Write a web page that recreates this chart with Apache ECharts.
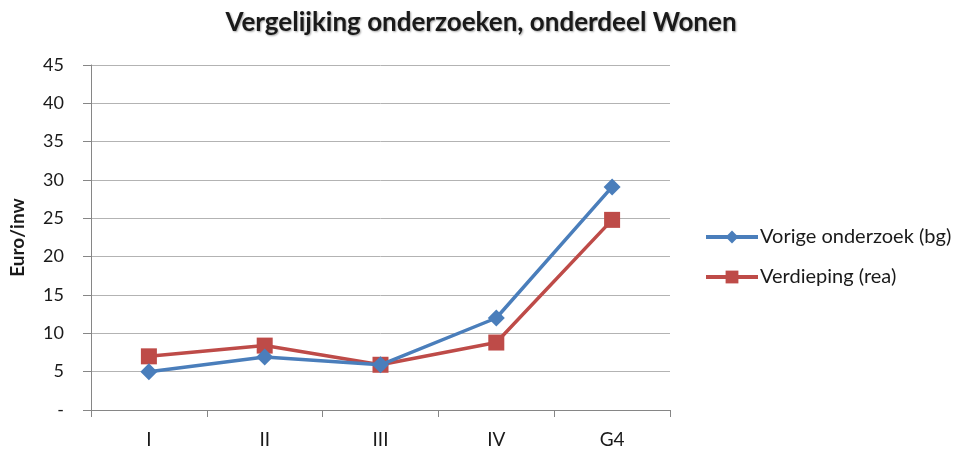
<!DOCTYPE html>
<html>
<head>
<meta charset="utf-8">
<script src="https://cdn.jsdelivr.net/npm/echarts@6/dist/echarts.min.js"></script>
<style>
	html, body { margin: 0; padding: 0; background: #ffffff; }
	#chart { width: 962px; height: 450px; }
</style>
</head>
<body>
<div id="chart"></div>
<script>
	var categories = ['I', 'II', 'III', 'IV', 'G4'];
	var vorige = [5.0, 6.9, 5.9, 12.0, 29.1];
	var verdieping = [7.0, 8.4, 5.9, 8.8, 24.8];

	var myChart = echarts.init(document.getElementById('chart'));
	var font = 'Lato, "Open Sans", sans-serif';

	var option = {
		animation: false,
		color: ['#4a7ebb', '#be4b48'],
		title: {
			text: 'Vergelijking onderzoeken, onderdeel Wonen',
			left: 'center',
			top: 5,
			textStyle: {
				fontFamily: font,
				fontSize: 26,
				fontWeight: 'bold',
				color: '#1a1a1a',
				textShadowColor: 'rgba(0,0,0,0.35)',
				textShadowBlur: 2,
				textShadowOffsetX: 1,
				textShadowOffsetY: 1
			}
		},
		legend: {
			orient: 'vertical',
			left: 699,
			top: 222,
			itemGap: 20,
			itemWidth: 52,
			itemHeight: 16,
			lineStyle: { width: 4 },
			textStyle: { fontFamily: font, fontSize: 20, color: '#1a1a1a', padding: [0, 0, 0, -3] },
			data: ['Vorige onderzoek (bg)', 'Verdieping (rea)']
		},
		grid: { left: 91, right: 292, top: 65, bottom: 40, outerBoundsMode: 'none', containLabel: false },
		xAxis: {
			type: 'category',
			data: categories,
			boundaryGap: true,
			axisLine: { lineStyle: { color: '#868686', width: 1 } },
			axisTick: { show: true, length: 7, lineStyle: { color: '#868686' } },
			axisLabel: { fontFamily: font, fontSize: 19, color: '#1a1a1a', margin: 20 }
		},
		yAxis: {
			type: 'value',
			min: 0,
			max: 45,
			interval: 5,
			name: 'Euro/inw',
			nameLocation: 'middle',
			nameGap: 64,
			nameRotate: 90,
			nameTextStyle: { fontFamily: font, fontSize: 19, fontWeight: 'bold', color: '#1a1a1a' },
			axisLine: { show: true, lineStyle: { color: '#868686', width: 1 } },
			axisTick: { show: true, length: 8, lineStyle: { color: '#868686' } },
			splitLine: { lineStyle: { color: '#b3b3b3', width: 1 } },
			axisLabel: {
				fontFamily: font,
				fontSize: 18,
				color: '#1a1a1a',
				margin: 27,
				formatter: function (v) { return v === 0 ? '-' : v; }
			}
		},
		series: [
			{
				name: 'Vorige onderzoek (bg)',
				type: 'line',
				data: vorige,
				symbol: 'diamond',
				symbolSize: 17,
				lineStyle: { width: 3.5 },
				z: 3
			},
			{
				name: 'Verdieping (rea)',
				type: 'line',
				data: verdieping,
				symbol: 'rect',
				symbolSize: 16,
				lineStyle: { width: 3.5 },
				z: 2
			}
		]
	};

	option && myChart.setOption(option);
</script>
</body>
</html>
